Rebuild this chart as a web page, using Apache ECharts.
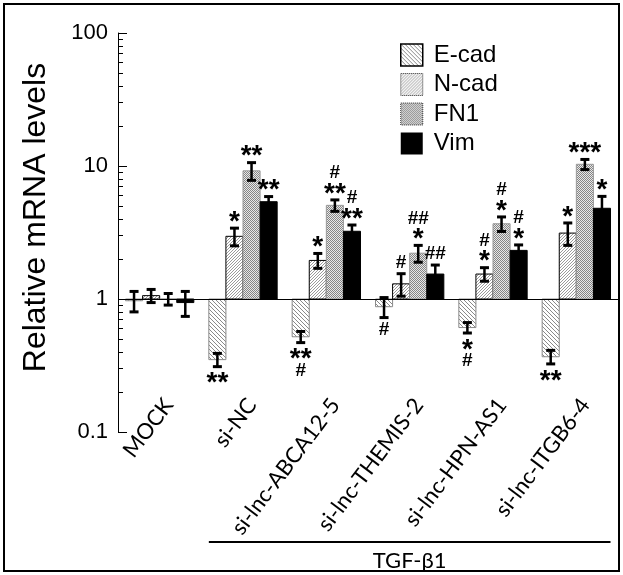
<!DOCTYPE html>
<html>
<head>
<meta charset="UTF-8">
<title>Relative mRNA levels</title>
<script src="https://cdn.jsdelivr.net/npm/echarts@6/dist/echarts.min.js"></script>
<style>
    html, body { margin: 0; padding: 0; background: #fff; }
    #chart { width: 623px; height: 575px; }
</style>
</head>
<body>
<div id="chart"></div>
<script>
    // 数据
    var categories = ['MOCK', 'si-NC', 'si-lnc-ABCA12-5', 'si-lnc-THEMIS-2', 'si-lnc-HPN-AS1', 'si-lnc-ITGB6-4'];
    var genes = ['E-cad', 'N-cad', 'FN1', 'Vim'];
    var yTicks = [0.1, 1, 10, 100];
    var yMinorTicks = [0.2, 0.3, 0.4, 0.5, 0.6, 0.7, 0.8, 0.9,
        2, 3, 4, 5, 6, 7, 8, 9,
        20, 30, 40, 50, 60, 70, 80, 90];

    var ecad = [0.97, 0.35, 0.52, 0.875, 0.61, 0.368];
    var ecadSd = [0.17, 0.04, 0.05, 0.15, 0.055, 0.043];
    var ncad = [1.06, 2.96, 1.95, 1.30, 1.54, 3.13];
    var ncadSd = [0.12, 0.45, 0.25, 0.25, 0.18, 0.6];
    var fn1 = [1.0, 9.2, 5.06, 2.21, 3.68, 10.3];
    var fn1Sd = [0.1, 1.4, 0.5, 0.32, 0.46, 0.9];
    var vim = [0.94, 5.39, 3.23, 1.54, 2.32, 4.81];
    var vimSd = [0.2, 0.5, 0.37, 0.26, 0.23, 1.1];

    var ecadSig = ['', '**', '**\n#', '#', '*\n#', '**'];
    var ncadSig = ['', '*', '*', '#', '#\n*', '*'];
    var fn1Sig = ['', '**', '#\n**', '##\n*', '#\n*', '***'];
    var vimSig = ['', '**', '#\n**', '##', '#\n*', '*'];

    // 填充图案
    function hatch(dir, color, step) {
        var c = document.createElement('canvas');
        c.width = step; c.height = step;
        var ctx = c.getContext('2d');
        ctx.fillStyle = '#fff';
        ctx.fillRect(0, 0, step, step);
        ctx.strokeStyle = color;
        ctx.lineWidth = 1;
        for (var k = -1; k <= 1; k++) {
            ctx.beginPath();
            if (dir > 0) {
                ctx.moveTo(k * step, step);
                ctx.lineTo(k * step + step, 0);
            } else {
                ctx.moveTo(k * step, 0);
                ctx.lineTo(k * step + step, step);
            }
            ctx.stroke();
        }
        return {image: c, repeat: 'repeat'};
    }
    function checker(a, b) {
        var c = document.createElement('canvas');
        c.width = 2; c.height = 2;
        var ctx = c.getContext('2d');
        ctx.fillStyle = b; ctx.fillRect(0, 0, 2, 2);
        ctx.fillStyle = a; ctx.fillRect(0, 0, 1, 1); ctx.fillRect(1, 1, 1, 1);
        return {image: c, repeat: 'repeat'};
    }

    var fills = [hatch(-1, '#8a8a8a', 4), hatch(1, '#9a9a9a', 3), checker('#858585', '#e8e8e8'), '#000'];
    var strokes = ['#8a8a8a', '#000', '#999', '#000'];
    var values = [ecad, ncad, fn1, vim];
    var sds = [ecadSd, ncadSd, fn1Sd, vimSd];
    var sigs = [ecadSig, ncadSig, fn1Sig, vimSig];

    function sigText(str) {
        return str.split('\n').map(function (line) {
            return line.charAt(0) == '#' ? '{h|' + line + '}' : '{s|' + line + '}';
        }).join('\n');
    }

    function makeRender(s) {
        return function (params, api) {
            var i = api.value(0), v = api.value(1), sd = api.value(2);
            var c0 = api.coord([0, 1]), c1 = api.coord([1, 1]);
            var band = c1[0] - c0[0];
            var bw = band * 0.205;
            var c = api.coord([i, 1]);
            var x0 = c[0] + (s - 2) * bw;
            var cx = x0 + bw / 2;
            var yBase = c[1];
            var yTop = api.coord([i, v])[1];
            var yHi = api.coord([i, v + sd])[1];
            var yLo = api.coord([i, v - sd])[1];
            var children = [{
                type: 'rect',
                shape: {x: x0, y: Math.min(yBase, yTop), width: bw, height: Math.abs(yTop - yBase)},
                style: {fill: fills[s], stroke: strokes[s], lineWidth: 1}
            }, {
                type: 'line', shape: {x1: cx, y1: yHi, x2: cx, y2: yLo},
                style: {stroke: '#000', lineWidth: 2.5}
            }, {
                type: 'line', shape: {x1: cx - 4.5, y1: yHi, x2: cx + 4.5, y2: yHi},
                style: {stroke: '#000', lineWidth: 3}
            }, {
                type: 'line', shape: {x1: cx - 4.5, y1: yLo, x2: cx + 4.5, y2: yLo},
                style: {stroke: '#000', lineWidth: 3}
            }];
            var t = sigs[s][params.dataIndex];
            if (t) {
                var up = v >= 1;
                children.push({
                    type: 'text',
                    x: cx,
                    y: up ? yHi - 3 : yLo + 4,
                    style: {
                        text: sigText(t),
                        align: 'center',
                        verticalAlign: up ? 'bottom' : 'top',
                        fill: '#000',
                        rich: {
                            s: {fontSize: 28, fontWeight: 'bold', fontFamily: 'Liberation Sans', lineHeight: 16, padding: [10, 0, 0, 0]},
                            h: {fontSize: 19, fontWeight: 'bold', fontFamily: 'Liberation Sans', lineHeight: 16}
                        }
                    }
                });
            }
            return {type: 'group', children: children};
        };
    }

    var series = [];
    for (var s = 0; s < 4; s++) {
        var d = [];
        for (var i = 0; i < categories.length; i++) {
            d.push([i, values[s][i], sds[s][i]]);
        }
        var ser = {
            name: genes[s],
            type: 'custom',
            renderItem: makeRender(s),
            itemStyle: {color: fills[s]},
            encode: {x: 0, y: 1},
            data: d,
            clip: false,
            z: 3
        };
        if (s == 0) {
            ser.markLine = {
                silent: true,
                symbol: 'none',
                label: {show: false},
                lineStyle: {color: '#000', width: 1, type: 'solid'},
                data: [{yAxis: 1}]
            };
        }
        series.push(ser);
    }

    var chart = echarts.init(document.getElementById('chart'));
    var option = {
        animation: false,
        backgroundColor: '#fff',
        grid: {left: 118, right: 5, top: 33, bottom: 143},
        legend: {
            orient: 'vertical',
            left: 395,
            top: 38,
            itemWidth: 22,
            itemHeight: 22,
            itemGap: 5.5,
            textStyle: {fontFamily: 'Liberation Sans', fontSize: 24, color: '#000', padding: [0, 0, 0, 6]},
            data: [
                {name: 'E-cad', icon: 'rect', itemStyle: {color: fills[0], borderColor: '#000', borderWidth: 1.5}},
                {name: 'N-cad', icon: 'rect', itemStyle: {color: fills[1], borderColor: '#333', borderWidth: 1, borderType: 'dotted'}},
                {name: 'FN1', icon: 'rect', itemStyle: {color: fills[2], borderColor: '#333', borderWidth: 1, borderType: 'dotted'}},
                {name: 'Vim', icon: 'rect', itemStyle: {color: '#000', borderWidth: 0}}
            ]
        },
        xAxis: {
            type: 'category',
            data: categories,
            boundaryGap: true,
            axisLine: {show: false},
            axisTick: {show: false},
            axisLabel: {
                interval: 0,
                rotate: 53,
                margin: -19,
                padding: [0, -15, 0, 0],
                fontFamily: 'Lato',
                fontSize: 22,
                color: '#000'
            }
        },
        yAxis: [{
            type: 'log',
            logBase: 10,
            min: yTicks[0],
            max: yTicks[yTicks.length - 1],
            name: 'Relative mRNA levels',
            nameLocation: 'middle',
            nameGap: 66,
            nameTextStyle: {fontFamily: 'Liberation Sans', fontSize: 32, color: '#000', padding: [0, 0, 0, 30]},
            axisLine: {show: true, lineStyle: {color: '#000', width: 1}},
            axisTick: {show: true, inside: true, length: 5, customValues: yMinorTicks, lineStyle: {color: '#000'}},
            splitLine: {show: false},
            axisLabel: {fontFamily: 'Liberation Sans', fontSize: 22, color: '#000', margin: 10, customValues: yTicks}
        }, {
            type: 'log',
            logBase: 10,
            position: 'left',
            min: yTicks[0],
            max: yTicks[yTicks.length - 1],
            axisLine: {show: false},
            axisTick: {show: true, inside: true, length: 9, customValues: yTicks, lineStyle: {color: '#000'}},
            axisLabel: {show: false},
            splitLine: {show: false}
        }],
        series: series
    };
    chart.setOption(option);

    // 注释：TGF-β1 及外框
    var pa = chart.convertToPixel({xAxisIndex: 0, yAxisIndex: 0}, [1, 1]);
    var pb = chart.convertToPixel({xAxisIndex: 0, yAxisIndex: 0}, [5, 1]);
    var p0 = chart.convertToPixel({xAxisIndex: 0, yAxisIndex: 0}, [0, 1]);
    var half = (pa[0] - p0[0]) * 0.205 * 2;
    var lx1 = pa[0] - half, lx2 = pb[0] + half;
    chart.setOption({
        graphic: [
            {type: 'rect', shape: {x: 4, y: 4, width: 615, height: 567}, style: {fill: 'none', stroke: '#000', lineWidth: 2}, silent: true},
            {type: 'line', shape: {x1: lx1, y1: 542, x2: lx2, y2: 542}, style: {stroke: '#000', lineWidth: 2}},
            {type: 'text', x: (lx1 + lx2) / 2, y: 561, style: {text: 'TGF-β1', fontFamily: 'Lato', fontSize: 22, fill: '#000', align: 'center', verticalAlign: 'middle'}}
        ]
    });
</script>
</body>
</html>
